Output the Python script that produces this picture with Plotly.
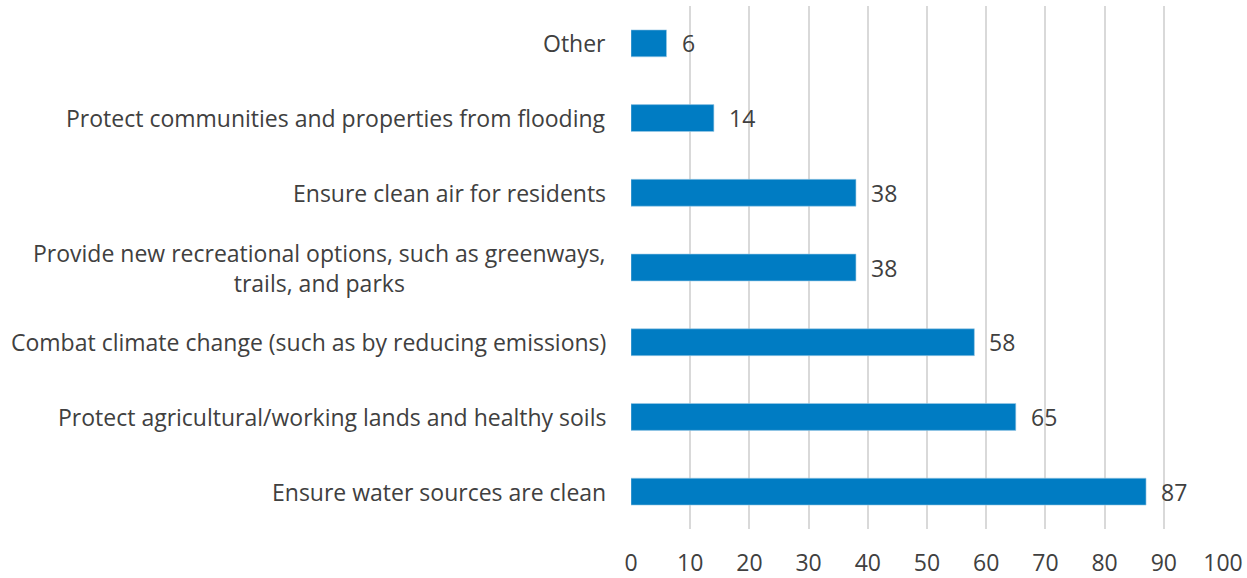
import plotly.graph_objects as go

categories = [
    "Other",
    "Protect communities and properties from flooding",
    "Ensure clean air for residents",
    "Provide new recreational options, such as greenways,<br>trails, and parks",
    "Combat climate change (such as by reducing emissions)",
    "Protect agricultural/working lands and healthy soils",
    "Ensure water sources are clean",
]
values = [6, 14, 38, 38, 58, 65, 87]
x_ticks = list(range(0, 101, 10))

text_color = "#404040"
bar_color = "#007CC3"
font_family = "Open Sans, sans-serif"
font_size = 23

fig = go.Figure(
    go.Bar(
        x=values,
        y=categories,
        orientation="h",
        marker=dict(color=bar_color, line=dict(color="#9ecbe6", width=0.6)),
        width=0.36,
        hoverinfo="x+y",
    )
)

# value labels sit a bit further from the bar end than plotly's own outside text
for cat, val in zip(categories, values):
    fig.add_annotation(
        x=val, xref="x", y=cat, yref="y",
        text=str(val), showarrow=False,
        xanchor="left", xshift=13,
        font=dict(size=font_size, color=text_color, family=font_family),
    )

# category labels as annotations so wrapped lines stay centred
for cat in categories:
    fig.add_annotation(
        x=0, xref="paper", y=cat, yref="y",
        text=cat, showarrow=False,
        xanchor="right", xshift=-23, align="center",
        font=dict(size=font_size, color=text_color, family=font_family),
    )

fig.update_xaxes(
    range=[0, 100],
    tickvals=x_ticks,
    showgrid=True,
    gridcolor="#d9d9d9",
    gridwidth=1.5,
    zeroline=False,
    automargin=False,
    ticklabelstandoff=18,
    tickfont=dict(size=font_size, color=text_color),
)
fig.update_yaxes(
    autorange="reversed",
    showticklabels=False,
    showgrid=False,
    automargin=False,
)
fig.update_layout(
    width=1247,
    height=578,
    margin=dict(l=631, r=24, t=6, b=49),
    plot_bgcolor="white",
    paper_bgcolor="white",
    font=dict(family=font_family, color=text_color),
    showlegend=False,
)

# drop the default 8px body margin so the figure fills the window exactly
fig.write_html(
    "out.html",
    config={"displayModeBar": False},
    post_script="document.body.style.margin = '0';",
)
